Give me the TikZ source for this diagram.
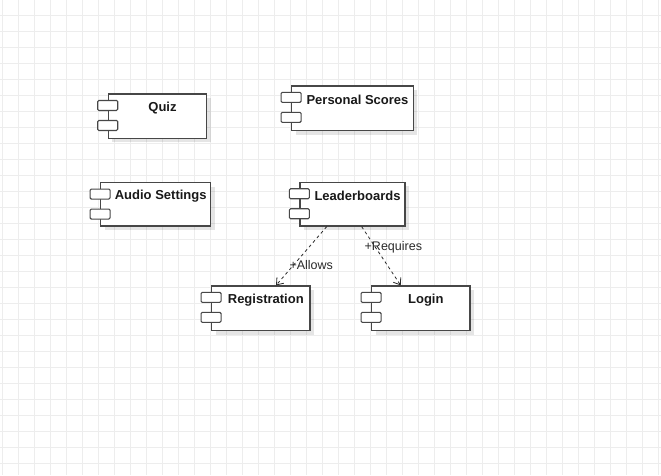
\documentclass[tikz,border=0pt]{standalone}
\usepackage{fontspec}
\setmainfont{Liberation Sans}
\usetikzlibrary{arrows.meta,shadows}
\definecolor{gridc}{HTML}{EDEDED}
\definecolor{edgec}{HTML}{2A2A2A}
\tikzset{
  comp/.style={draw=black!72, fill=white, line width=1.2pt, rectangle, inner sep=0pt,
    drop shadow={shadow xshift=4pt, shadow yshift=-4pt, fill=black, opacity=0.10}},
  cport/.style={draw=black!72, fill=white, line width=1.1pt, rectangle, inner sep=0pt,
    rounded corners=1.2pt, minimum width=20pt, minimum height=10pt},
  ctext/.style={font=\fontsize{13}{15}\selectfont\bfseries, text=black!90, inner sep=0pt},
  dep/.style={draw=edgec, line width=0.8pt, dash pattern=on 3pt off 3pt,
    -{Straight Barb[length=6pt,width=9pt]}},
  deplabel/.style={font=\fontsize{12.5}{14}\selectfont, text=edgec, inner sep=1pt, fill=none}
}
\newcommand\umlcomp[6]{%
  \node[comp, minimum width=#4pt, minimum height=#5pt] (#1) at (#2,#3) {};
  \node[cport] (#1-p1) at ([yshift=-12pt]#1.north west) {};
  \node[cport] (#1-p2) at ([yshift=-32pt]#1.north west) {};
  \node[ctext] (#1-t) at ([xshift=5pt,yshift=-14.5pt]#1.north) {#6};
}
\begin{document}
\begin{tikzpicture}[x=1pt,y=-1pt]
  \useasboundingbox (0,0) rectangle (661,475);
  \fill[white] (0,0) rectangle (661,475);
  % grid
  \foreach \gx in {2.7,18.7,...,661}{\draw[gridc, line width=0.8pt] (\gx,0) -- (\gx,475);}
  \foreach \gy in {15,31,...,475}{\draw[gridc, line width=0.8pt] (0,\gy) -- (661,\gy);}
  % components
  \umlcomp{quiz}{157.5}{116.2}{98.4}{44.3}{Quiz}
  \umlcomp{pers}{352.5}{108.3}{121.6}{44.7}{Personal Scores}
  \umlcomp{audio}{155.7}{204.3}{110}{43.3}{Audio Settings}
  \umlcomp{lead}{352.5}{204.2}{105}{43.7}{Leaderboards}
  \umlcomp{reg}{260.8}{308.3}{98.3}{44.7}{Registration}
  \umlcomp{login}{420.8}{308.3}{98.3}{44.7}{Login}
  % dependencies
  \draw[dep] ([xshift=-25.8pt]lead.south) -- ([xshift=15.2pt]reg.north)
    node[deplabel, pos=0.66, xshift=18pt] (allows) {+Allows};
  \draw[dep] ([xshift=9.2pt]lead.south) -- ([xshift=-20.1pt]login.north)
    node[deplabel, pos=0.35, xshift=18pt] (requires) {+Requires};
\end{tikzpicture}
\end{document}
